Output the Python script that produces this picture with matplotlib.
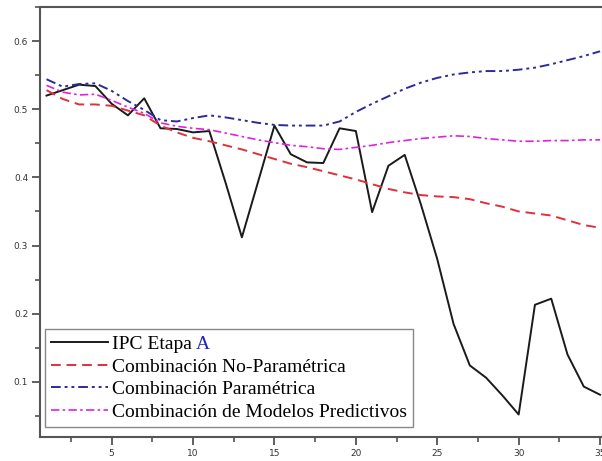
import matplotlib
matplotlib.use("Agg")
import matplotlib.pyplot as plt
from matplotlib.ticker import MultipleLocator
from matplotlib.transforms import offset_copy

periods = list(range(1, 36))
ipc = [0.520, 0.528, 0.536, 0.534, 0.508, 0.491, 0.516, 0.472, 0.471, 0.466,
       0.468, 0.392, 0.312, 0.394, 0.476, 0.434, 0.422, 0.421, 0.472, 0.468,
       0.349, 0.417, 0.433, 0.360, 0.280, 0.185, 0.124, 0.106, 0.080, 0.052,
       0.213, 0.222, 0.140, 0.093, 0.081]
no_param = [0.528, 0.515, 0.507, 0.507, 0.505, 0.498, 0.491, 0.476, 0.466, 0.458,
            0.453, 0.447, 0.441, 0.434, 0.427, 0.420, 0.415, 0.409, 0.403, 0.397,
            0.390, 0.383, 0.378, 0.374, 0.372, 0.371, 0.368, 0.362, 0.357, 0.350,
            0.347, 0.344, 0.337, 0.330, 0.326]
param = [0.544, 0.533, 0.537, 0.538, 0.527, 0.512, 0.499, 0.484, 0.482, 0.487,
         0.491, 0.488, 0.484, 0.480, 0.477, 0.476, 0.476, 0.476, 0.482, 0.496,
         0.508, 0.519, 0.530, 0.539, 0.546, 0.551, 0.554, 0.556, 0.556, 0.558,
         0.561, 0.566, 0.572, 0.578, 0.585]
predictivos = [0.535, 0.525, 0.521, 0.522, 0.513, 0.503, 0.494, 0.480, 0.475, 0.472,
               0.470, 0.465, 0.460, 0.455, 0.451, 0.447, 0.445, 0.442, 0.441, 0.444,
               0.447, 0.451, 0.454, 0.457, 0.459, 0.461, 0.460, 0.457, 0.455, 0.453,
               0.453, 0.454, 0.454, 0.455, 0.455]

labels = ["IPC Etapa A", "Combinación No-Paramétrica", "Combinación Paramétrica",
          "Combinación de Modelos Predictivos"]

W, H = 602, 461
fig = plt.figure(figsize=(W / 100, H / 100), dpi=100)
ax = fig.add_axes([40 / W, 1 - 437 / H, 563 / W, 430 / H])

ax.plot(periods, ipc, color="#1a1a1a", lw=1.4, label=labels[0])
ax.plot(periods, no_param, color="#e0303a", lw=1.4, ls=(0, (5, 3)), label=labels[1])
ax.plot(periods, param, color="#2c2c98", lw=1.4, ls=(0, (5, 2, 1.5, 2, 1.5, 2)), label=labels[2])
ax.plot(periods, predictivos, color="#dd22dd", lw=1.2, ls=(0, (5, 2, 1.5, 2)), label=labels[3])

ax.set_xlim(0.6, 35.18)
ax.set_ylim(0.019, 0.65)
ax.xaxis.set_minor_locator(MultipleLocator(2.5))
ax.yaxis.set_minor_locator(MultipleLocator(0.05))
ax.set_xticks([5, 10, 15, 20, 25, 30, 35])
ax.set_yticks([0.1, 0.2, 0.3, 0.4, 0.5, 0.6])
ax.set_yticklabels(["0.1", "0.2", "0.3", "0.4", "0.5", "0.6"])

ax.tick_params(which="major", direction="out", length=5.5, width=1.2, color="#444",
               labelsize=6.5, labelcolor="#333", pad=3)
ax.tick_params(which="minor", direction="out", length=3.5, width=1.1, color="#444")
for s in ax.spines.values():
    s.set_color("#555")
    s.set_linewidth(1.5)

FS = 14
leg = ax.legend(loc="lower left", bbox_to_anchor=(0.009, 0.023), borderaxespad=0,
                prop={"family": "Liberation Serif", "size": FS},
                handlelength=2.9, handletextpad=0.2, labelspacing=0.25,
                borderpad=0.33, fancybox=False, framealpha=1)
leg.get_frame().set_edgecolor("#888")
leg.get_frame().set_linewidth(1.0)

fig.canvas.draw()
r = fig.canvas.get_renderer()
t0 = leg.get_texts()[0]
full_w = t0.get_window_extent(r).width
t0.set_text("IPC Etapa")
tmp = fig.text(0, 0, "A", family="Liberation Serif", size=FS)
a_w = tmp.get_window_extent(r).width
tmp.remove()
fig.canvas.draw()
dx = (full_w - a_w) * 72 / 100
x, y = t0.get_position()
tA = plt.Text(x, y, "A", color="#2020c0", family="Liberation Serif", size=FS,
              va=t0.get_va(), ha="left",
              transform=offset_copy(t0.get_transform(), fig=fig, x=dx, y=0, units="points"))
fig.add_artist(tA)

fig.savefig("out.png", dpi=100)
